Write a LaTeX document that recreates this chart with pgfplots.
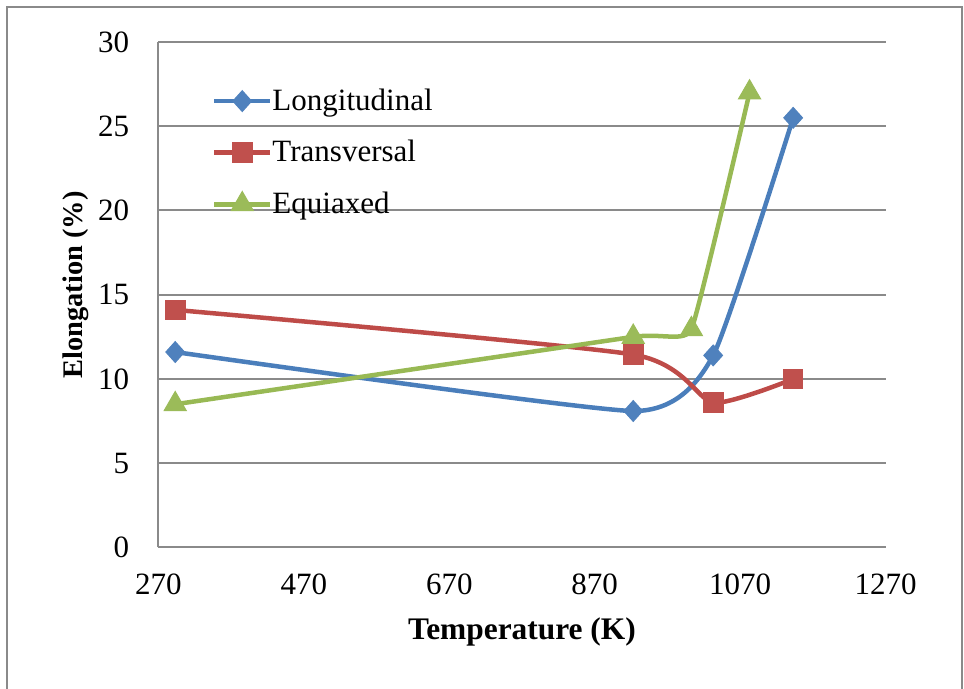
\documentclass[border=0pt]{standalone}
\usepackage{fontspec}
\setmainfont{Liberation Serif}
\usepackage{pgfplots}
\pgfplotsset{compat=1.18}
\definecolor{lblue}{HTML}{4A7EBB}
\definecolor{fblue}{HTML}{4F81BD}
\definecolor{lred}{HTML}{BE4B48}
\definecolor{fred}{HTML}{C0504D}
\definecolor{lgreen}{HTML}{98B954}
\definecolor{fgreen}{HTML}{9BBB59}
\definecolor{gridgray}{HTML}{8A8A8A}
\begin{document}
\begin{tikzpicture}
\useasboundingbox (-79.25pt,-70.75pt) rectangle (402.75pt,273.75pt);
\draw[gridgray, line width=1pt] (-75.75pt,-90pt) -- (-75.75pt,270.25pt) -- (401.5pt,270.25pt) -- (401.5pt,-90pt);
\begin{axis}[
  at={(0,0)}, anchor=south west,
  scale only axis, width=363.5pt, height=252.75pt,
  xmin=270, xmax=1270, ymin=0, ymax=30,
  xtick={270,470,...,1270}, ytick={0,5,...,30},
  axis x line*=bottom, axis y line*=left,
  axis line style={gridgray, line width=1pt, -},
  ymajorgrids, grid style={gridgray, line width=1pt},
  major tick length=0pt,
  tick style={draw=none},
  /pgf/number format/assume math mode=true,
  /pgf/number format/1000 sep={},
  ticklabel style={font=\fontsize{15.5}{18}\selectfont, inner sep=0pt},
  yticklabel style={anchor=east, xshift=-14.5pt},
  xticklabel style={anchor=north, yshift=-12.75pt},
  xlabel={\textbf{Temperature (K)}},
  xlabel style={at={(axis description cs:0.5,0)}, anchor=base, yshift=-46.25pt, inner sep=0pt, font=\fontsize{15.7}{18}\selectfont},
  ylabel={\textbf{Elongation (\%)}},
  ylabel style={at={(axis description cs:-0.1052,0.5194)}, anchor=base, inner sep=0pt, font=\fontsize{14.2}{16}\selectfont},
  legend style={draw=none, fill=none, inner sep=0pt, outer sep=0pt, at={(axis description cs:0.0736,0.781)}, anchor=west, font=\fontsize{15.5}{18}\selectfont, row sep=13.4pt, nodes={inner sep=0pt}},
  legend cell align=left,
  legend image code/.code={\draw[mark repeat=2, mark phase=2, #1] plot coordinates {(0pt,0pt) (14pt,0pt) (28pt,0pt)};},
  clip=false,
]
\addplot[lblue, line width=2.25pt, smooth, tension=0.3, mark=diamond*, mark size=5.2pt, mark options={fill=fblue, draw=fblue, line width=0.5pt, xscale=1.2}]
  coordinates {(293,11.6) (923,8.1) (1033,11.4) (1143,25.5)};
\addlegendentry{Longitudinal}
\addplot[lred, line width=2.25pt, smooth, tension=0.35, mark=square*, mark size=4.9pt, mark options={fill=fred, draw=fred, line width=0.5pt}]
  coordinates {(293,14.1) (923,11.45) (1033,8.6) (1143,10.0)};
\addlegendentry{Transversal}
\addplot[lgreen, line width=2.25pt, smooth, tension=0.2, mark=triangle*, mark size=6.4pt, mark options={fill=fgreen, draw=fgreen, line width=0.5pt}]
  coordinates {(293,8.5) (923,12.5) (1003,12.95) (1083,27.0)};
\addlegendentry{Equiaxed}
\end{axis}
\end{tikzpicture}
\end{document}
